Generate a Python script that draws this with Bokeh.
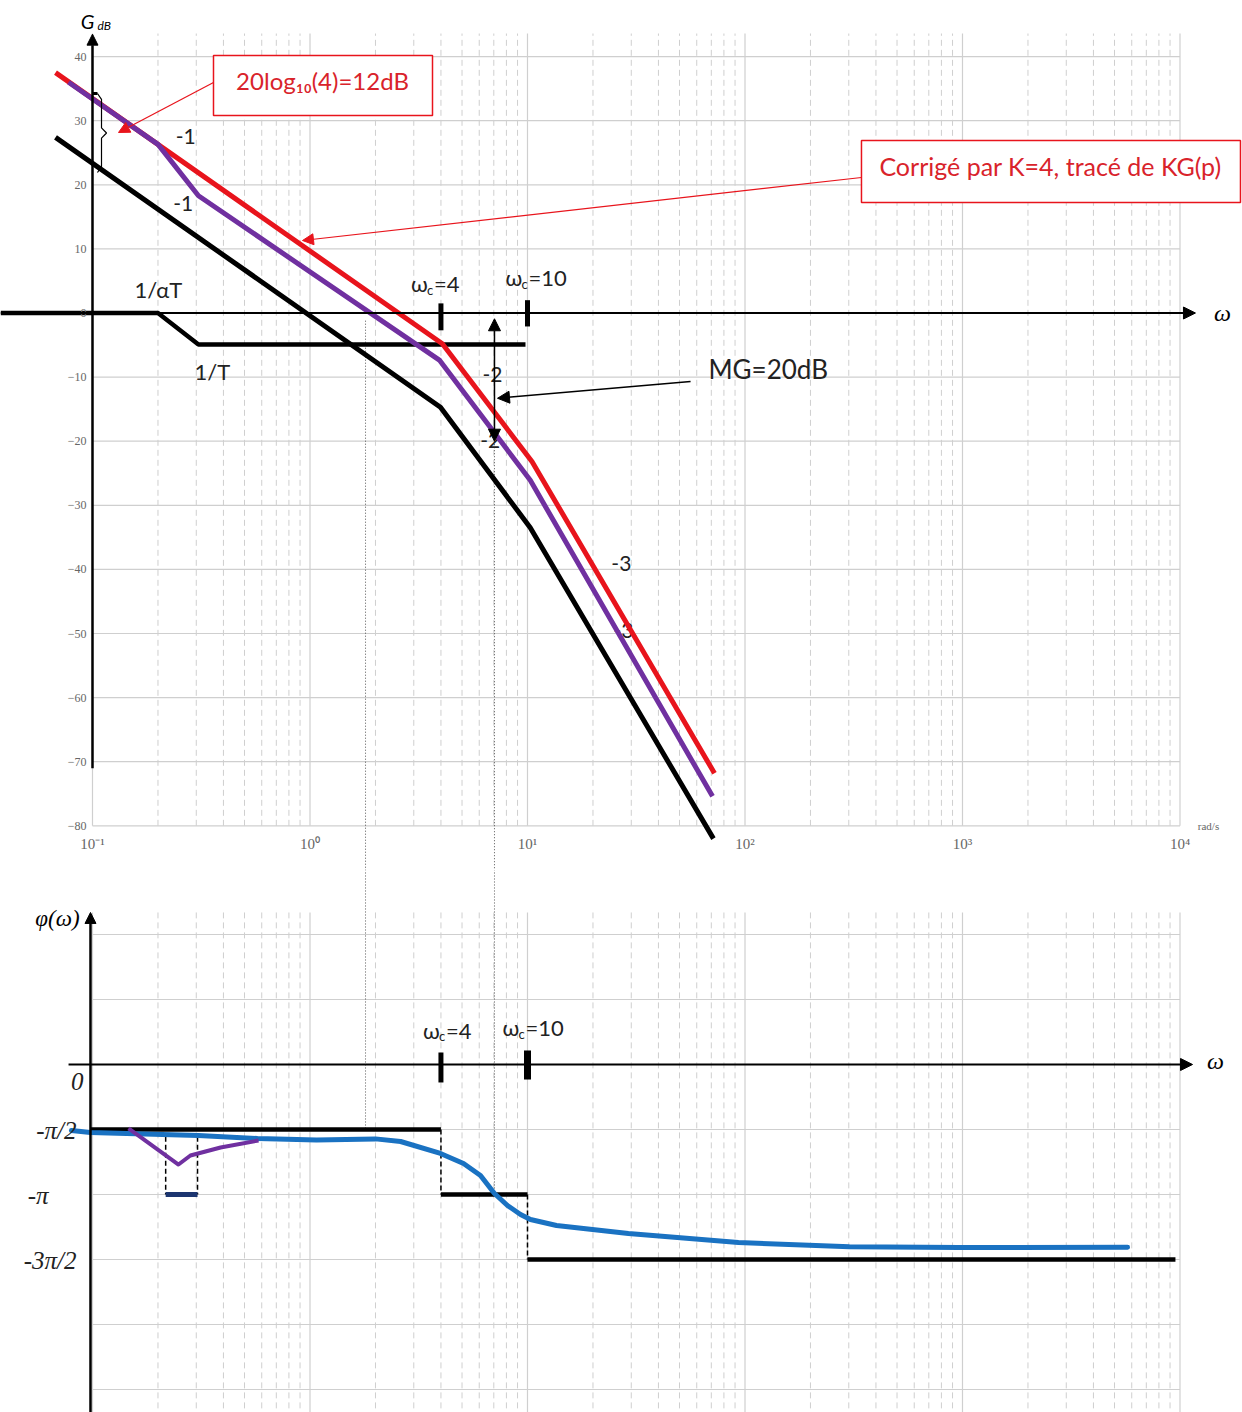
import numpy as np
from bokeh.plotting import figure
from bokeh.layouts import column
from bokeh.models import Range1d, Arrow, NormalHead
from bokeh.core.properties import value
from bokeh.embed import file_html
from bokeh.resources import INLINE

# ---------------- data ----------------
decades = [0.1, 1, 10, 100, 1000, 10000]
decade_labels = ["10⁻¹", "10⁰", "10¹", "10²", "10³", "10⁴"]
db_ticks = [40, 30, 20, 10, 0, -10, -20, -30, -40, -50, -60, -70, -80]
db_labels = ["40", "30", "20", "10", "0", "−10", "−20", "−30", "−40",
             "−50", "−60", "−70", "−80"]
phase_grid_deg = [180, 90, 0, -90, -180, -270, -360, -450]
phase_ticks_deg = [0, -90, -180, -270]
phase_labels = ["0", "-π/2", "-π", "-3π/2"]

# magnitude asymptotes (rad/s, dB)
w_G = [0.0676, 3.98, 10.3, 71.6]
dB_G = [27.4, -14.7, -33.5, -82.0]
w_KG = [0.0676, 4.06, 10.5, 72.4]
dB_KG = [37.5, -4.8, -23.2, -71.8]
w_KGC = [0.0776, 0.2, 0.307, 3.95, 10.3, 70.9]
dB_KGC = [36.0, 26.3, 18.3, -7.4, -26.1, -75.4]
w_C = [0.0378, 0.2, 0.307, 9.79]
dB_C = [0.0, 0.0, -4.9, -4.9]

w_c1, w_c2 = 4.0, 10.0
w_cross = 1.80
w_mg = 7.05
MG_top, MG_bot = -0.9, -20.0

slope_w = [0.268, 0.261, 6.9, 6.74, 27.0, 27.6]
slope_dB = [27.5, 17.1, -9.6, -19.9, -39.1, -49.5]
slope_txt = ["-1", "-1", "-2", "-2", "-3", "-3"]
brk_w = [0.201, 0.356]
brk_dB = [3.6, -9.1]
brk_txt = ["1/αT", "1/T"]

# phase (rad/s, degrees)
w_phi = [0.0800, 0.0979, 0.307, 0.574, 1.071, 2.0, 2.61, 3.98, 5.08, 6.08,
         7.05, 8.09, 9.29, 10.32, 13.6, 29.1, 93.3, 302, 968, 5740]
phi_deg = [-91.4, -94.2, -98.3, -102.5, -104.5, -103.0, -106.6, -123.2, -137.1,
           -153.7, -178.6, -195.2, -207.7, -214.6, -222.9, -234.0, -246.5,
           -252.5, -253.4, -253.0]
w_phiC = [0.1464, 0.2485, 0.282, 0.388, 0.580]
phiC_deg = [-88.6, -138.5, -126.0, -114.9, -105.2]
w_steps = [0.0979, 4.0, 10.0, 9530]
steps_deg = [-90, -180, -270]
w_band = [0.217, 0.304]

RED = "#e8141c"
RED_T = "#d9232b"
PURPLE = "#7030a0"
BLUE = "#1a72c2"
GRID = "#cfcfcf"
SANS = value("Lato")
SERIF = value("Liberation Serif")

minor = [k * d for d in decades[:-1] for k in range(2, 10)]


def make_fig(h, yr):
    p = figure(width=1242, height=h, x_axis_type="log",
               x_range=Range1d(10 ** -1.42299, 10 ** 4.2874), y_range=Range1d(*yr),
               x_axis_location=None, y_axis_location=None, toolbar_location=None,
               output_backend="svg", min_border=0, title=None,
               outline_line_color=None)
    p.grid.visible = False
    return p


def grid(p, y0, y1, hlines):
    p.segment(x0=minor, x1=minor, y0=[y0] * len(minor), y1=[y1] * len(minor),
              line_color=GRID, line_width=1, line_dash="6 4")
    p.segment(x0=decades, x1=decades, y0=[y0] * len(decades), y1=[y1] * len(decades),
              line_color=GRID, line_width=1.2)
    p.segment(x0=[decades[0]] * len(hlines), x1=[decades[-1]] * len(hlines),
              y0=hlines, y1=hlines, line_color=GRID, line_width=1.2)


def arrow(p, x0, y0, x1, y1, color="black", lw=2, size=12, both=False):
    head = NormalHead(size=size, fill_color=color, line_color=color)
    kw = dict(start=NormalHead(size=size, fill_color=color, line_color=color)) if both else {}
    p.add_layout(Arrow(end=head, x_start=x0, y_start=y0, x_end=x1, y_end=y1,
                       line_color=color, line_width=lw, **kw))


def wc_label(p, w, y, num, dx):
    common = dict(text_font=SANS, text_color="#222222", text_align="left",
                  text_baseline="middle")
    p.text(x=[w], y=[y], text=["ω"], x_offset=dx, text_font_size="22px", **common)
    p.text(x=[w], y=[y], text=["c"], x_offset=dx + 16, y_offset=6,
           text_font_size="13px", **common)
    p.text(x=[w], y=[y], text=["=" + num], x_offset=dx + 23, text_font_size="22px", **common)


# ======================= magnitude =======================
p1 = make_fig(870, (-86.97, 48.75))
grid(p1, -80, 43.6, db_ticks)

# dotted guides
p1.segment(x0=[w_cross, w_mg], x1=[w_cross, w_mg], y0=[-1.2, MG_bot], y1=[-87, -87],
           line_color="#555555", line_width=1, line_dash="1 2")

# slope labels (under curves)
p1.text(x=slope_w, y=slope_dB, text=slope_txt, text_font=SANS, text_font_size="21px",
        text_color="#222222", text_align="center", text_baseline="middle")
p1.text(x=brk_w, y=brk_dB, text=brk_txt, text_font=SANS, text_font_size="22px",
        text_color="#222222", text_align="center", text_baseline="middle")

# axes
arrow(p1, decades[0], -71, decades[0], 43.5, lw=2.5, size=11)
arrow(p1, w_C[0], 0, 11780, 0, lw=2, size=12)
p1.text(x=[15670], y=[0], text=["ω"], text_font=SERIF, text_font_style="italic",
        text_font_size="24px", text_align="center", text_baseline="middle")
p1.text(x=[0.1], y=[45.6], text=["G"], text_font=SANS, text_font_style="italic",
        text_font_size="20px", text_align="center", text_baseline="middle", x_offset=-5)
p1.text(x=[0.1], y=[45.6], text=["dB"], text_font=SANS, text_font_style="italic",
        text_font_size="12px", text_align="left", text_baseline="middle",
        x_offset=5, y_offset=5)

# curves
p1.line(w_C, dB_C, line_color="black", line_width=4.5)
p1.line(w_G, dB_G, line_color="black", line_width=5, line_join="round")
p1.line(w_KG, dB_KG, line_color=RED, line_width=5, line_join="round")
p1.line(w_KGC, dB_KGC, line_color=PURPLE, line_width=5, line_join="round")

# omega_c marks
p1.segment(x0=[w_c1, w_c2], x1=[w_c1, w_c2], y0=[1.5, 2.0], y1=[-2.7, -2.1],
           line_color="black", line_width=5)
wc_label(p1, w_c1, 4.6, "4", -30)
wc_label(p1, w_c2, 5.5, "10", -22)

# gain margin
arrow(p1, w_mg, MG_top, w_mg, MG_bot, lw=1.5, size=12, both=True)
arrow(p1, 56.2, -10.7, 7.28, -13.3, lw=1.5, size=12)
p1.text(x=[67.9], y=[-8.66], text=["MG=20dB"], text_font=SANS, text_font_size="26px",
        text_color="#222222", text_align="left", text_baseline="middle")

# annotation boxes
p1.quad(left=[0.360, 343.2], right=[3.658, 18970], top=[40.17, 26.9],
        bottom=[30.81, 17.24], fill_color="white", line_color=RED, line_width=1.5)
p1.text(x=[1.142, 2539], y=[36.27, 22.86],
        text=["20log₁₀(4)=12dB", "Corrigé par K=4, tracé de KG(p)"],
        text_font=SANS, text_font_size=["24px", "25px"], text_color=RED_T,
        text_align="center", text_baseline="middle")
arrow(p1, 0.360, 35.96, 0.1317, 28.16, color=RED, lw=1.2, size=11)
arrow(p1, 343.2, 21.14, 0.9236, 11.31, color=RED, lw=1.2, size=11)

# brace showing the 12 dB gain
bt, bb = 34.24, 21.92
bm = (bt + bb) / 2
p1.line([0.1054, 0.110, 0.110, 0.116, 0.110, 0.110, 0.1054],
        [bt, bt - 0.9, bm + 0.8, bm, bm - 0.8, bb + 0.9, bb],
        line_color="black", line_width=1.2)
p1.segment(x0=[0.1], x1=[0.1054], y0=[bt], y1=[bt], line_color="black", line_width=3)

# tick labels
p1.text(x=[0.1] * len(db_ticks), y=db_ticks, text=db_labels, text_font=SERIF,
        text_font_size="12px", text_color="#666666", text_align="right",
        text_baseline="middle", x_offset=-6)
p1.text(x=decades, y=[-82.8] * len(decades), text=decade_labels, text_font=SERIF,
        text_font_size="15px", text_color="#666666", text_align="center",
        text_baseline="middle")
p1.text(x=[13520], y=[-80.1], text=["rad/s"], text_font=SERIF, text_font_size="11px",
        text_color="#666666", text_align="center", text_baseline="middle")

# ======================= phase =======================
p2 = make_fig(542, (-481.85, 268.6))
grid(p2, -490, 210.5, phase_grid_deg)

p2.segment(x0=[w_cross, w_mg], x1=[w_cross, w_mg], y0=[270, 270], y1=[-88, -175],
           line_color="#555555", line_width=1, line_dash="1 2")

# asymptotic phase steps
p2.segment(x0=w_steps[:-1], x1=w_steps[1:], y0=steps_deg, y1=steps_deg,
           line_color="black", line_width=4.5)
p2.segment(x0=w_steps[1:3], x1=w_steps[1:3], y0=steps_deg[:2], y1=steps_deg[1:],
           line_color="black", line_width=1.5, line_dash="5 3")
p2.segment(x0=w_band, x1=w_band, y0=[-100, -100], y1=[-180, -180],
           line_color="black", line_width=1.5, line_dash="5 3")
p2.segment(x0=[w_band[0]], x1=[w_band[1]], y0=[-180], y1=[-180],
           line_color="#1c3570", line_width=5)

p2.line(w_phi, phi_deg, line_color=BLUE, line_width=5, line_join="round", line_cap="round")
p2.line(w_phiC, phiC_deg, line_color=PURPLE, line_width=4, line_join="round")

# axes
arrow(p2, 0.0979, -490, 0.0979, 210.5, lw=2.5, size=11)
arrow(p2, 0.0776, 0, 11420, 0, lw=2, size=12)
p2.text(x=[14560], y=[5.5], text=["ω"], text_font=SERIF, text_font_style="italic",
        text_font_size="24px", text_align="center", text_baseline="middle")
p2.text(x=[0.069], y=[202], text=["φ(ω)"], text_font=SERIF, text_font_style="italic",
        text_font_size="23px", text_align="center", text_baseline="middle")
p2.text(x=[0.1] * len(phase_ticks_deg), y=[d - 1 for d in phase_ticks_deg],
        text=phase_labels, text_font=SERIF, text_font_style="italic",
        text_font_size="25px", text_color="#222222", text_align="right",
        text_baseline="middle", x_offset=[-9, -16, -44, -16],
        y_offset=[16, 0, 0, 0])

p2.segment(x0=[w_c1, w_c2], x1=[w_c1, w_c2], y0=[16.6, 19.4], y1=[-24.9, -20.8],
           line_color="black", line_width=[5, 7])
wc_label(p2, w_c1, 47.1, "4", -18)
wc_label(p2, w_c2, 51.2, "10", -25)

layout = column(p1, p2)
open("out.html", "w").write(file_html(layout, INLINE))
